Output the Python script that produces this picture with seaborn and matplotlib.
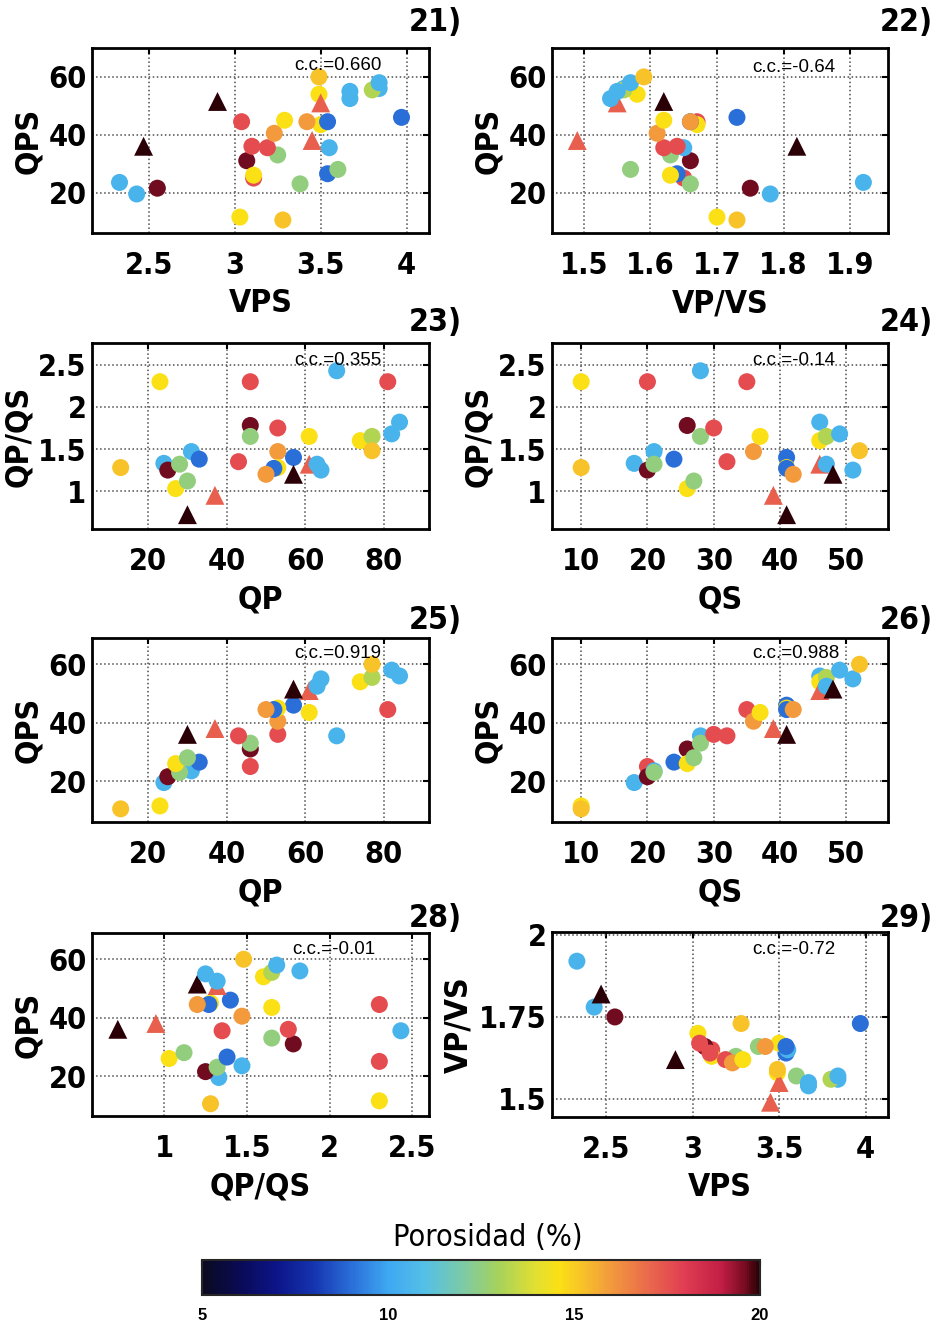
import matplotlib.pyplot as plt
import matplotlib as mpl
import pandas as pd
import seaborn as sns
from matplotlib import font_manager
from matplotlib.colors import LinearSegmentedColormap, Normalize
from matplotlib.ticker import FuncFormatter

# muestras
qs = [10, 10, 18, 20, 20, 21, 21, 24, 26, 26, 27, 28, 28, 30, 32, 35, 36,
      37, 39, 41, 41, 41, 42, 41, 46, 46, 47, 46, 47, 48, 49, 51, 52]
qp = [23, 13, 24, 46, 25, 31, 28, 33, 46, 27, 30, 68, 46, 53, 43, 81, 53,
      61, 37, 57, 53, 52, 50, 30, 84, 74, 77, 61, 63, 57, 82, 64, 77]
qp_qs = [2.30, 1.28, 1.33, 2.30, 1.25, 1.47, 1.32, 1.38, 1.78, 1.03, 1.12,
         2.43, 1.65, 1.75, 1.35, 2.30, 1.47, 1.65, 0.95, 1.40, 1.28, 1.27,
         1.20, 0.72, 1.82, 1.60, 1.65, 1.32, 1.32, 1.20, 1.68, 1.25, 1.48]
qps = [11.5, 10.5, 19.5, 25.0, 21.5, 23.5, 23.0, 26.5, 31.0, 26.0, 28.0,
       35.5, 33.0, 36.0, 35.5, 44.5, 40.5, 43.5, 38.0, 46.0, 45.0, 44.5,
       44.5, 36.0, 56.0, 54.0, 55.5, 51.0, 52.5, 51.5, 58.0, 55.0, 60.0]
vps = [3.03, 3.28, 2.43, 3.11, 2.55, 2.33, 3.38, 3.54, 3.07, 3.11, 3.60,
       3.55, 3.25, 3.10, 3.19, 3.04, 3.23, 3.50, 3.45, 3.97, 3.29, 3.54,
       3.42, 2.47, 3.84, 3.49, 3.80, 3.50, 3.67, 2.90, 3.84, 3.67, 3.49]
vp_vs = [1.70, 1.73, 1.78, 1.65, 1.75, 1.92, 1.66, 1.64, 1.66, 1.63, 1.57,
         1.65, 1.63, 1.64, 1.62, 1.67, 1.61, 1.67, 1.49, 1.73, 1.62, 1.66,
         1.66, 1.82, 1.56, 1.58, 1.56, 1.55, 1.54, 1.62, 1.57, 1.55, 1.59]
porosidad = [14.6, 15.2, 10.5, 17.6, 19.6, 10.5, 12.5, 9.0, 19.6, 14.6, 12.5,
             10.5, 12.5, 17.6, 17.6, 17.6, 16.0, 14.6, 17.2, 9.0, 14.6, 9.0,
             16.0, 20.0, 10.5, 14.6, 13.2, 17.2, 10.5, 20.0, 10.5, 10.5, 15.2]
forma = ['o'] * 18 + ['^'] + ['o'] * 4 + ['^'] + ['o'] * 3 + ['^', 'o', '^', 'o', 'o', 'o']

df = pd.DataFrame({'QS': qs, 'QP': qp, 'QP/QS': qp_qs, 'QPS': qps,
                   'VPS': vps, 'VP/VS': vp_vs, 'poro': porosidad, 'forma': forma})

# escala de color parecida a la barra de la figura
cstops = [(5.0, '#0a0a20'), (6.0, '#0a0a55'), (7.0, '#0c1488'), (8.0, '#1535b0'),
          (9.0, '#2a6ed8'), (10.0, '#3ea8f2'), (11.0, '#55c0e6'), (12.0, '#7ccaa6'),
          (13.0, '#a8d25a'), (14.0, '#e2e030'), (14.6, '#fae014'), (15.2, '#f8c428'),
          (16.0, '#f29a3c'), (17.0, '#ea6a4c'), (18.0, '#e03c52'), (19.0, '#c01e44'),
          (19.6, '#7a0c22'), (20.0, '#2a0006')]
cmap = LinearSegmentedColormap.from_list('poro', [((v - 5) / 15, c) for v, c in cstops])
norm = Normalize(5, 20)

W, H = 944, 1327

def fx(x):
    return x / W

def fy(y):
    return 1 - y / H

panels = [
    dict(x='VPS', y='QPS', rect=(92, 48, 337, 185), xlim=(2.17, 4.13), ylim=(6, 70),
         xt=[2.5, 3, 3.5, 4], yt=[20, 40, 60], cc='c.c.=0.660', ccp=(338, 66), tag='21)', tp=(462, 23)),
    dict(x='VP/VS', y='QPS', rect=(552, 48, 336, 185), xlim=(1.452, 1.957), ylim=(6, 70),
         xt=[1.5, 1.6, 1.7, 1.8, 1.9], yt=[20, 40, 60], cc='c.c.=-0.64', ccp=(794, 67), tag='22)', tp=(933, 23)),
    dict(x='QP', y='QP/QS', rect=(92, 343, 337, 186), xlim=(5.7, 91.5), ylim=(0.55, 2.76),
         xt=[20, 40, 60, 80], yt=[1, 1.5, 2, 2.5], cc='c.c.=0.355', ccp=(338, 360), tag='23)', tp=(462, 323)),
    dict(x='QS', y='QP/QS', rect=(552, 343, 336, 186), xlim=(5.6, 56.3), ylim=(0.55, 2.76),
         xt=[10, 20, 30, 40, 50], yt=[1, 1.5, 2, 2.5], cc='c.c.=-0.14', ccp=(794, 360), tag='24)', tp=(933, 323)),
    dict(x='QP', y='QPS', rect=(92, 638, 337, 184), xlim=(5.7, 91.5), ylim=(6, 69),
         xt=[20, 40, 60, 80], yt=[20, 40, 60], cc='c.c.=0.919', ccp=(338, 654), tag='25)', tp=(462, 621)),
    dict(x='QS', y='QPS', rect=(552, 638, 336, 184), xlim=(5.6, 56.3), ylim=(6, 69),
         xt=[10, 20, 30, 40, 50], yt=[20, 40, 60], cc='c.c.=0.988', ccp=(796, 654), tag='26)', tp=(933, 621)),
    dict(x='QP/QS', y='QPS', rect=(92, 933, 337, 183), xlim=(0.564, 2.6), ylim=(6.3, 69),
         xt=[1, 1.5, 2, 2.5], yt=[20, 40, 60], cc='c.c.=-0.01', ccp=(334, 949), tag='28)', tp=(462, 918)),
    dict(x='VPS', y='VP/VS', rect=(552, 932, 336, 185), xlim=(2.186, 4.13), ylim=(1.445, 2.009),
         xt=[2.5, 3, 3.5, 4], yt=[1.5, 1.75, 2], cc='c.c.=-0.72', ccp=(794, 949), tag='29)', tp=(933, 918)),
]

sns.set_style('white')

# letra estrecha si hay alguna instalada
fonts = font_manager.fontManager.ttflist
narrow = [f for f in fonts if 'condensed' in str(f.stretch) or 'Narrow' in f.name
          or 'Condensed' in f.name]
if narrow:
    big_family = [narrow[0].name, 'DejaVu Sans']
    big_stretch = narrow[0].stretch
    big_size = 23
    tick_size = 22
else:
    big_family = ['Liberation Sans', 'DejaVu Sans']
    big_stretch = 'normal'
    big_size = 21
    tick_size = 20
plt.rcParams['font.family'] = big_family
plt.rcParams['font.stretch'] = big_stretch
plt.rcParams['font.weight'] = 'bold'
for key in ['text.color', 'axes.labelcolor', 'xtick.color', 'ytick.color']:
    plt.rcParams[key] = 'black'

fig = plt.figure(figsize=(W / 100, H / 100), dpi=100)
fmt = FuncFormatter(lambda v, p: f'{v:g}')

for p in panels:
    l, t, w, h = p['rect']
    ax = fig.add_axes([fx(l), fy(t + h), w / W, h / H])
    sns.scatterplot(data=df, x=p['x'], y=p['y'], hue='poro', palette=cmap, hue_norm=norm,
                    style='forma', markers={'o': 'o', '^': '^'},
                    size='forma', sizes={'o': 150, '^': 185}, linewidth=0,
                    legend=False, ax=ax, zorder=3)
    ax.set_xlim(p['xlim'])
    ax.set_ylim(p['ylim'])
    ax.set_xticks(p['xt'])
    ax.set_yticks(p['yt'])
    ax.xaxis.set_major_formatter(fmt)
    ax.yaxis.set_major_formatter(fmt)
    ax.grid(True, linestyle=':', color='0.3', linewidth=1.1)
    ax.tick_params(direction='in', length=4, width=1.5, top=True, right=True,
                   labelsize=tick_size, colors='black')
    ax.tick_params(axis='x', pad=13)
    ax.tick_params(axis='y', pad=4)
    for sp in ax.spines.values():
        sp.set_linewidth(2)
        sp.set_color('black')
    ax.set_xlabel(p['x'], fontsize=big_size, fontweight='bold', labelpad=6)
    ax.set_ylabel(p['y'], fontsize=big_size, fontweight='bold', labelpad=3)
    fig.text(fx(p['ccp'][0]), fy(p['ccp'][1]), p['cc'], ha='center', va='center',
             fontsize=13.5, fontweight='normal', fontstretch='normal',
             family=['Liberation Sans', 'DejaVu Sans'])
    fig.text(fx(p['tp'][0]), fy(p['tp'][1]), p['tag'], ha='right', va='center',
             fontsize=big_size, fontweight='bold')

# barra de color
cax = fig.add_axes([fx(202), fy(1295), 558 / W, 35 / H])
cb = mpl.colorbar.ColorbarBase(cax, cmap=cmap, norm=norm, orientation='horizontal',
                               ticks=[5, 10, 15, 20])
cb.outline.set_linewidth(1.5)
cax.tick_params(direction='in', length=4, width=1.5, top=True, pad=9, labelsize=12,
                colors='black')
for lab in cax.get_xticklabels():
    lab.set_family(['Liberation Sans', 'DejaVu Sans'])
    lab.set_fontstretch('normal')
    lab.set_fontweight('bold')
fig.text(fx(488), fy(1238), 'Porosidad (%)', ha='center', va='center',
         fontsize=22, fontweight='normal')

fig.savefig('out.png', dpi=100)
